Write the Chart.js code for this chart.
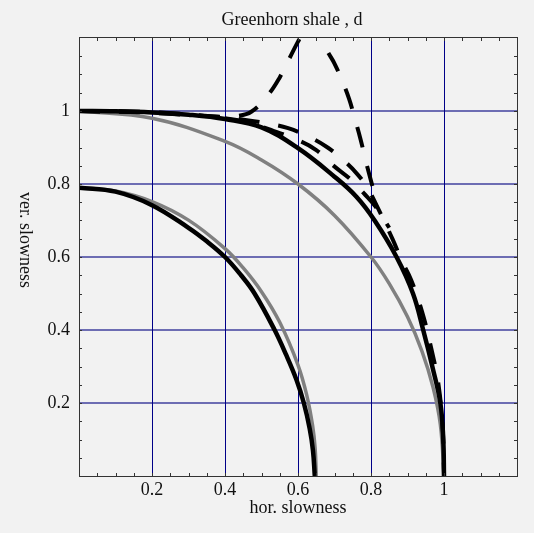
<!DOCTYPE html>
<html>
<head>
<meta charset="utf-8">
<script src="https://cdn.jsdelivr.net/npm/chart.js@4.4.0/dist/chart.umd.min.js"></script>
<style>
  html, body { margin: 0; padding: 0; background: #f2f2f2; }
  #wrap { width: 534px; height: 533px; }
</style>
</head>
<body>
<div id="wrap"><canvas id="slowness"></canvas></div>
<script>
// exact qSV slowness curve
const svX = [0, 0.1, 0.2, 0.3, 0.4, 0.5, 0.6, 0.7, 0.76, 0.81, 0.87, 0.915, 0.943, 0.968, 0.99, 0.998, 1];
const svY = [1, 0.999, 0.996, 0.99, 0.978, 0.955, 0.898, 0.82, 0.765, 0.7, 0.6, 0.5, 0.4, 0.3, 0.2, 0.1, 0];

// exact qP slowness curve
const pX = [0, 0.1, 0.2, 0.3, 0.35, 0.4, 0.444, 0.481, 0.536, 0.567, 0.596, 0.616, 0.632, 0.641, 0.646];
const pY = [0.79, 0.779, 0.742, 0.68, 0.643, 0.6, 0.55, 0.5, 0.4, 0.333, 0.263, 0.2, 0.13, 0.07, 0];

// approximations (dashed)
const loopX = [0, 0.2, 0.385, 0.43, 0.472, 0.518, 0.55, 0.577, 0.6, 0.62, 0.64, 0.655, 0.665, 0.68, 0.7, 0.72, 0.74, 0.756, 0.772, 0.787, 0.805];
const loopY = [1, 0.995, 0.984, 0.986, 0.998, 1.044, 1.092, 1.145, 1.19, 1.225, 1.245, 1.235, 1.2, 1.165, 1.13, 1.085, 1.033, 0.978, 0.92, 0.858, 0.79];

const upperX = [0, 0.2, 0.4, 0.46, 0.52, 0.573, 0.628, 0.678, 0.719, 0.76, 0.79, 0.815, 0.86, 0.883, 0.91, 0.94, 0.965, 0.985, 0.997, 1];
const upperY = [1, 0.997, 0.982, 0.975, 0.965, 0.953, 0.93, 0.902, 0.87, 0.83, 0.79, 0.742, 0.647, 0.592, 0.537, 0.45, 0.35, 0.25, 0.12, 0];

const lowerX = [0.4, 0.45, 0.52, 0.6, 0.65, 0.695, 0.746, 0.78, 0.815, 0.85];
const lowerY = [0.98, 0.972, 0.95, 0.92, 0.893, 0.852, 0.811, 0.775, 0.735, 0.68];

// isotropic reference curves (grey)
const isoOuterX = [0, 0.2, 0.4, 0.5, 0.6, 0.7, 0.8, 0.85, 0.9, 0.94, 0.97, 0.99, 1];
const isoOuterY = [1, 0.98, 0.917, 0.866, 0.8, 0.714, 0.6, 0.527, 0.436, 0.341, 0.243, 0.141, 0];

const isoInnerX = [0, 0.1, 0.2, 0.3, 0.4, 0.45, 0.5, 0.55, 0.6, 0.625, 0.64, 0.647, 0.65];
const isoInnerY = [0.79, 0.781, 0.752, 0.701, 0.623, 0.57, 0.505, 0.421, 0.304, 0.217, 0.138, 0.076, 0];

const axisTicks = [0.2, 0.4, 0.6, 0.8, 1];

const pts = (xs, ys) => xs.map((x, i) => ({ x: x, y: ys[i] }));

function curve(xs, ys, color, width, dash) {
  return {
    data: pts(xs, ys),
    showLine: true,
    borderColor: color,
    borderWidth: width,
    borderDash: dash || [],
    borderCapStyle: 'butt',
    pointRadius: 0,
    tension: 0.4,
    fill: false,
    clip: 0
  };
}

const serif = 'Liberation Serif, Times New Roman, serif';

// grid, frame, inward minor ticks and texts
const framePlugin = {
  id: 'frame',
  beforeDatasetsDraw(chart) {
    const { ctx, chartArea: a, scales: { x, y } } = chart;
    ctx.save();
    ctx.lineWidth = 1;
    ctx.strokeStyle = '#000088';
    ctx.beginPath();
    axisTicks.forEach(v => {
      const px = Math.round(x.getPixelForValue(v)) + 0.5;
      ctx.moveTo(px, a.top); ctx.lineTo(px, a.bottom);
    });
    ctx.stroke();
    ctx.lineWidth = 2;
    ctx.strokeStyle = 'rgba(0,0,128,0.55)';
    ctx.beginPath();
    axisTicks.forEach(v => {
      const py = Math.round(y.getPixelForValue(v));
      ctx.moveTo(a.left, py); ctx.lineTo(a.right, py);
    });
    ctx.stroke();
    ctx.restore();
  },
  afterDatasetsDraw(chart) {
    const { ctx, chartArea: a, scales: { x, y } } = chart;
    ctx.save();
    ctx.strokeStyle = '#333';
    ctx.lineWidth = 1;
    ctx.strokeRect(a.left + 0.5, a.top - 0.5, a.right - a.left, a.bottom - a.top + 1);
    ctx.beginPath();
    for (let i = 1; i < 24; i++) {
      const v = i * 0.05;
      const px = Math.round(x.getPixelForValue(v)) + 0.5;
      const py = Math.round(y.getPixelForValue(v)) + 0.5;
      ctx.moveTo(px, a.bottom); ctx.lineTo(px, a.bottom - 3);
      ctx.moveTo(px, a.top); ctx.lineTo(px, a.top + 3);
      ctx.moveTo(a.left, py); ctx.lineTo(a.left + 3, py);
      ctx.moveTo(a.right, py); ctx.lineTo(a.right - 3, py);
    }
    ctx.stroke();
    ctx.restore();
  },
  afterDraw(chart) {
    const { ctx } = chart;
    ctx.save();
    ctx.fillStyle = '#111';
    ctx.font = '18px ' + serif;
    ctx.textAlign = 'center';
    ctx.textBaseline = 'middle';
    ctx.fillText('Greenhorn shale , d', 292, 20);
    ctx.translate(25, 240);
    ctx.rotate(Math.PI / 2);
    ctx.fillText('ver. slowness', 0, 0);
    ctx.restore();
  }
};

const tickLabel = v => {
  const r = Math.round(v * 10) / 10;
  return axisTicks.includes(r) ? String(r) : '';
};

new Chart(document.getElementById('slowness'), {
  type: 'scatter',
  data: {
    datasets: [
      curve(svX, svY, '#000', 4.5),
      curve(pX, pY, '#000', 4.5),
      curve(loopX, loopY, '#000', 4, [21, 19]),
      curve(upperX, upperY, '#000', 4, [21, 19]),
      curve(lowerX, lowerY, '#000', 4, [21, 19]),
      curve(isoOuterX, isoOuterY, '#808080', 3.5),
      curve(isoInnerX, isoInnerY, '#808080', 3.5)
    ]
  },
  options: {
    responsive: true,
    maintainAspectRatio: false,
    animation: false,
    layout: { padding: { top: 38, right: 17, left: 0, bottom: 0 } },
    plugins: { legend: { display: false }, tooltip: { enabled: false } },
    scales: {
      x: {
        type: 'linear',
        min: 0,
        max: 1.2,
        grid: { display: false, drawTicks: false },
        border: { display: false },
        ticks: {
          stepSize: 0.2,
          padding: 3,
          color: '#111',
          maxRotation: 0,
          font: { family: serif, size: 18 },
          callback: tickLabel
        },
        title: {
          display: true,
          text: 'hor. slowness',
          color: '#111',
          font: { family: serif, size: 18 },
          padding: { top: 0, bottom: 14 }
        },
        afterFit: s => { s.height = 57; }
      },
      y: {
        type: 'linear',
        min: 0,
        max: 1.2,
        grid: { display: false, drawTicks: false },
        border: { display: false },
        ticks: {
          stepSize: 0.2,
          padding: 9,
          color: '#111',
          font: { family: serif, size: 18 },
          callback: tickLabel
        },
        afterFit: s => { s.width = 79; }
      }
    }
  },
  plugins: [framePlugin]
});
</script>
</body>
</html>
